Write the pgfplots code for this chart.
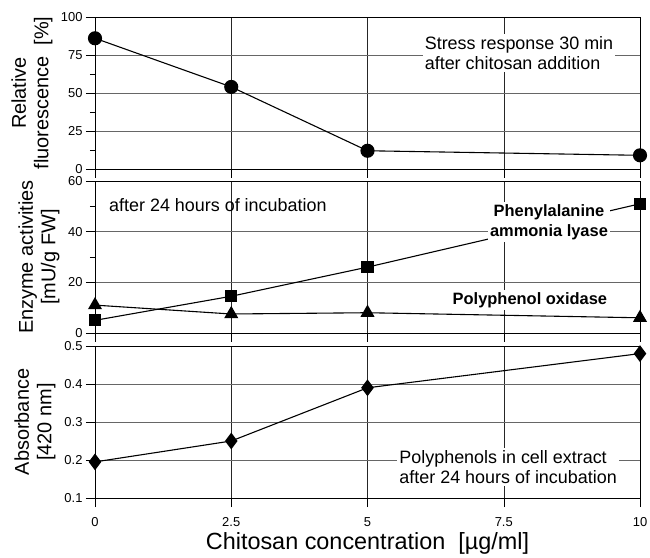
\documentclass[border=0pt]{standalone}
\usepackage{fontspec}
\setmainfont{Liberation Sans}
\usepackage{pgfplots}
\pgfplotsset{compat=1.18}
\tikzset{
  ann/.style={fill=white, inner sep=2bp, align=left, font=\fontsize{18}{20.5}\selectfont},
  bann/.style={fill=white, inner sep=2bp, align=center, font=\fontsize{16.5}{20}\bfseries\selectfont},
}
\begin{document}
\begin{tikzpicture}
\useasboundingbox (0bp,0bp) rectangle (650bp,558bp);
\pgfplotsset{
  panel/.style={
    scale only axis, width=545bp, height=152bp,
    anchor=south west,
    xmin=0, xmax=10, xtick={0,2.5,5,7.5,10},
    ytick pos=left, xtick pos=bottom,
    axis line style={black, line width=0.6pt},
    tick style={black, line width=0.5pt},
    tick align=outside, major tick length=9bp, minor tick length=5bp,
    ymajorgrids, xmajorgrids,
    y grid style={black!60, line width=0.5pt},
    x grid style={black!85, line width=0.5pt},
    yticklabel style={font=\fontsize{13}{15}\selectfont},
    xticklabel style={font=\fontsize{13}{15}\selectfont, yshift=-7bp},
    /pgf/number format/assume math mode=true,
    label style={font=\fontsize{20}{22.5}\selectfont, align=center},
    clip=false,
    every axis plot/.append style={black, line width=1.1pt},
  },
}
% Panel 1
\begin{axis}[panel, at={(95bp,389bp)},
  ymin=0, ymax=100, ytick={0,25,50,75,100}, minor y tick num=1,
  xticklabels={},
  ylabel={Relative\\fluorescence~~[\%]},
  ylabel style={at={(axis description cs:-0.1156,0.5)}, anchor=center}]
\addplot[mark=*, mark size=6.5bp] coordinates {(0,86) (2.5,54) (5,12) (10,9)};
\node[ann] at (axis cs:7.78,76.3) {Stress response 30 min\\after chitosan addition};
\end{axis}
% Panel 2
\begin{axis}[panel, at={(95bp,225bp)},
  ymin=0, ymax=60, ytick={0,20,40,60}, minor y tick num=1,
  xticklabels={},
  ylabel={Enzyme activities\\{}[mU/g FW]},
  ylabel style={at={(axis description cs:-0.1028,0.5)}, anchor=center}]
\addplot[mark=square*, mark size=5.5bp] coordinates {(0,5) (2.5,14.5) (5,26) (10,51)};
\addplot[mark=triangle*, mark size=7bp] coordinates {(0,11) (2.5,7.5) (5,8) (10,6)};
\node[ann, fill=none, anchor=west] at (axis cs:0.22,50.5) {after 24 hours of incubation};
\node[bann] at (axis cs:8.33,43.8) {Phenylalanine\\ammonia lyase};
\node[bann] at (axis cs:7.98,13.0) {Polyphenol oxidase};
\end{axis}
% Panel 3
\begin{axis}[panel, at={(95bp,60bp)},
  ymin=0.1, ymax=0.5, ytick={0.1,0.2,0.3,0.4,0.5},
  yticklabel style={/pgf/number format/.cd, fixed, precision=1, fixed zerofill},
  xticklabels={0,2.5,5,7.5,10},
  ylabel={Absorbance\\{}[420 nm]},
  ylabel style={at={(axis description cs:-0.110,0.5)}, anchor=center},
  xlabel={Chitosan concentration~~[µg/ml]},
  xlabel style={at={(axis description cs:0.5,0)}, yshift=-45bp, anchor=center, font=\fontsize{23.5}{25}\selectfont}]
\addplot[mark=diamond*, mark size=7.5bp] coordinates {(0,0.195) (2.5,0.25) (5,0.39) (10,0.48)};
\node[ann] at (axis cs:7.58,0.182) {Polyphenols in cell extract\\after 24 hours of incubation};
\end{axis}
\end{tikzpicture}
\end{document}
